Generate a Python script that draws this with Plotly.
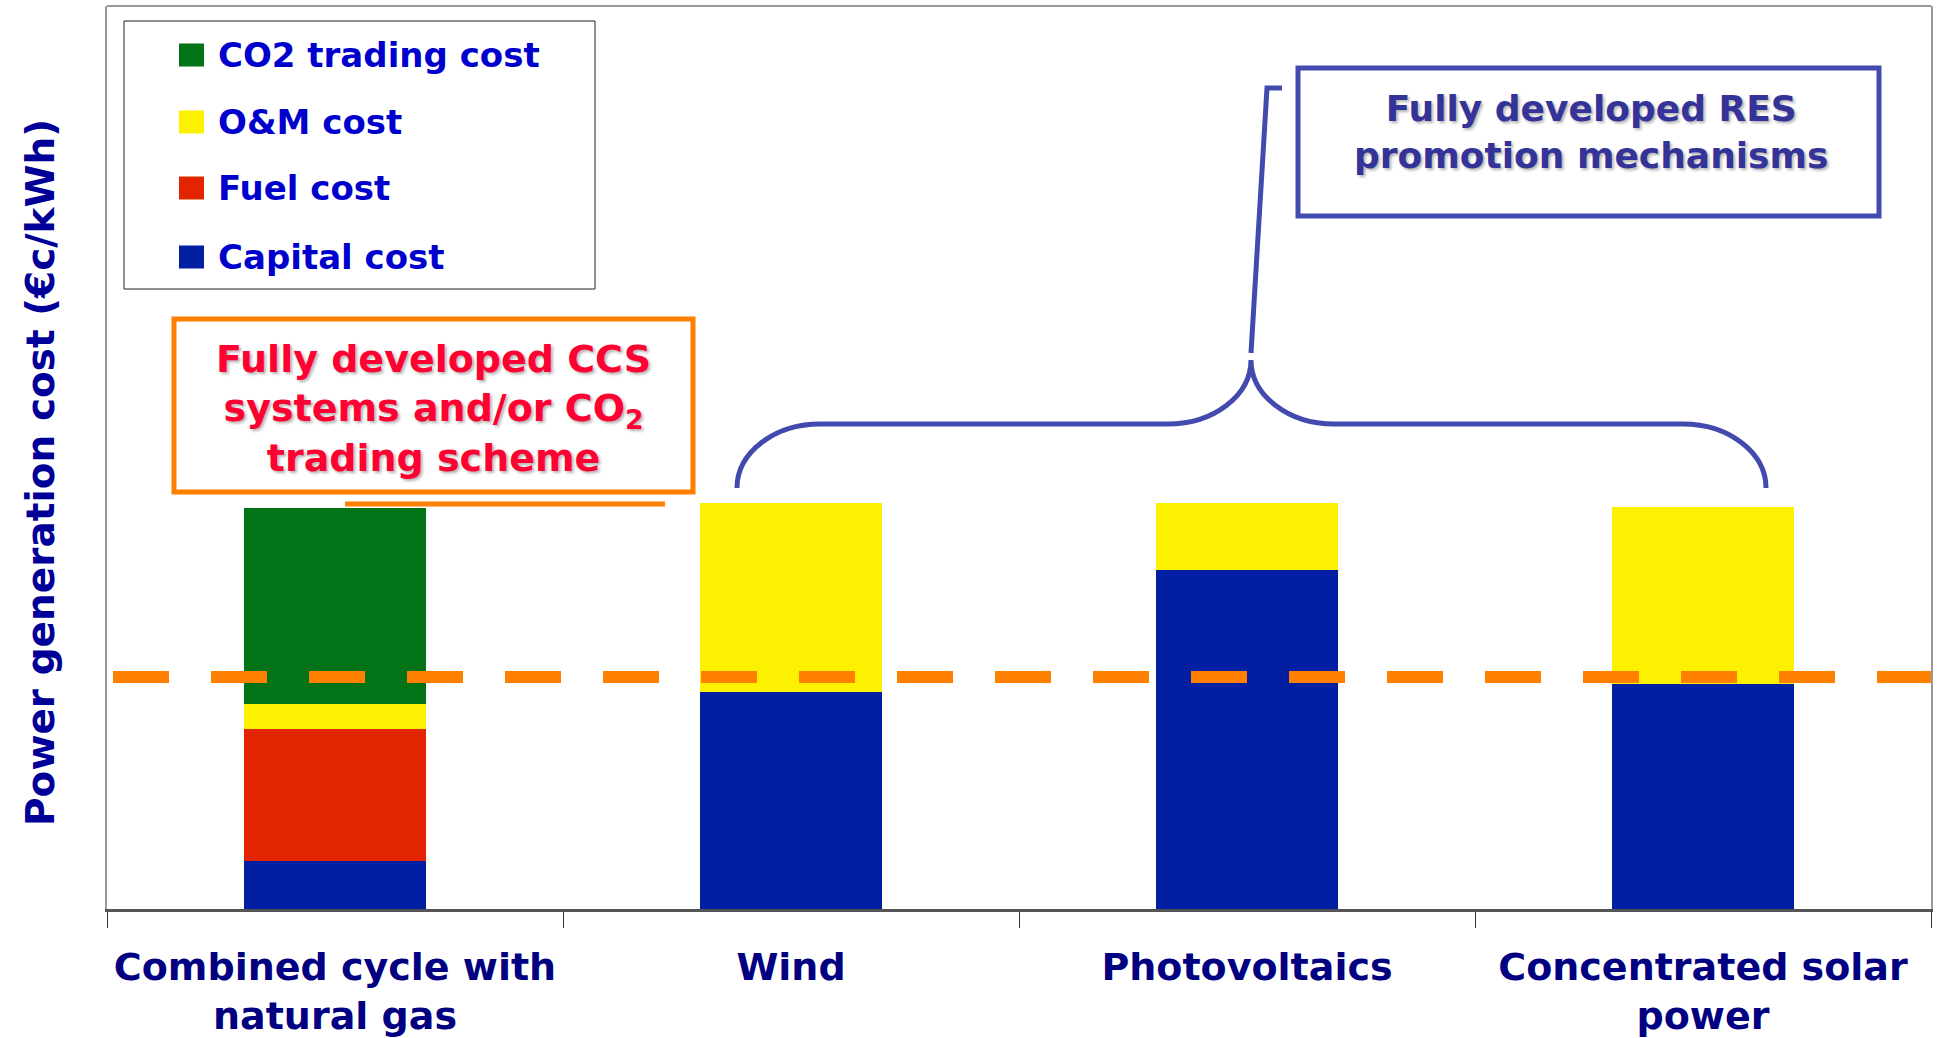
import plotly.graph_objects as go

# ---------------- data ----------------
categories = ["Combined cycle with natural gas", "Wind", "Photovoltaics", "Concentrated solar power"]
tick_labels = ["Combined cycle with<br>natural gas", "Wind", "Photovoltaics", "Concentrated solar<br>power"]
capital_cost = [0.53, 2.40, 3.75, 2.49]
fuel_cost = [1.46, 0.0, 0.0, 0.0]
om_cost = [0.28, 2.10, 0.75, 1.96]
co2_cost = [2.17, 0.0, 0.0, 0.0]
reference_cost = 2.57
series_names = ["Capital cost", "Fuel cost", "O&M cost", "CO2 trading cost"]
series_values = [capital_cost, fuel_cost, om_cost, co2_cost]
series_colors = ["#021EA3", "#E32402", "#FCF100", "#037318"]

# ---------------- layout helpers (pixel -> paper) ----------------
W, H = 1939, 1038
ML, MR, MT, MB = 107, 8, 6, 129
PW, PH = W - ML - MR, H - MT - MB


def PX(x):
    return (x - ML) / PW


def PY(y):
    return (H - MB - y) / PH


FONT = "DejaVu Sans"

fig = go.Figure()
for name, vals, col in zip(series_names, series_values, series_colors):
    fig.add_trace(go.Bar(x=categories, y=vals, name=name,
                         marker=dict(color=col, line=dict(width=0)),
                         showlegend=False))

fig.update_layout(
    width=W, height=H,
    margin=dict(l=ML, r=MR, t=MT, b=MB, autoexpand=False),
    plot_bgcolor="white", paper_bgcolor="white",
    barmode="stack", bargap=0.6,
    showlegend=False,
    xaxis=dict(type="category", tickmode="array", tickvals=categories, ticktext=tick_labels,
               tickson="boundaries", ticks="outside", ticklen=16, tickwidth=1, tickcolor="#333",
               showline=True, linecolor="#555", linewidth=3, showgrid=False, automargin=False,
               range=[-0.5, 3.5], ticklabelstandoff=22,
               tickfont=dict(family=FONT, size=38, color="#000080", weight="bold")),
    yaxis=dict(range=[0, 10], showticklabels=False, ticks="", showgrid=False, zeroline=False,
               showline=True, linecolor="#999", linewidth=2, mirror=True, automargin=False),
)

shapes = []
# top frame
shapes.append(dict(type="line", xref="paper", yref="paper", x0=0, x1=1, y0=1, y1=1,
                   line=dict(color="#999", width=2)))
# reference dashed line
shapes.append(dict(type="line", xref="paper", yref="y", x0=PX(113), x1=1,
                   y0=reference_cost, y1=reference_cost, layer="above",
                   line=dict(color="#FF7F00", width=12, dash="56px,42px")))

# legend box
shapes.append(dict(type="rect", xref="paper", yref="paper", x0=PX(124), x1=PX(595),
                   y0=PY(289), y1=PY(21), line=dict(color="#222", width=1), fillcolor="white"))
legend_rows = [55, 122, 188, 257]
for yc, name, col in zip(legend_rows, series_names[::-1], series_colors[::-1]):
    shapes.append(dict(type="rect", xref="paper", yref="paper", x0=PX(179), x1=PX(204),
                       y0=PY(yc + 11.5), y1=PY(yc - 11.5), line=dict(width=0), fillcolor=col))
    fig.add_annotation(x=PX(216), y=PY(yc), xref="paper", yref="paper", xanchor="left",
                       yanchor="middle", showarrow=False, text=name,
                       font=dict(family=FONT, size=34, color="#0000CC", weight="bold"))

# orange CCS box
shapes.append(dict(type="rect", xref="paper", yref="paper", x0=PX(174), x1=PX(693),
                   y0=PY(492), y1=PY(319), line=dict(color="#FF7F00", width=5)))
shapes.append(dict(type="line", xref="paper", yref="paper", x0=PX(345), x1=PX(665),
                   y0=PY(504), y1=PY(504), line=dict(color="#FF7F00", width=5)))
fig.add_annotation(x=PX(433), y=PY(408), xref="paper", yref="paper", showarrow=False,
                   xanchor="center", yanchor="middle",
                   text="Fully developed CCS<br>systems and/or CO<sub>2</sub><br>trading scheme",
                   font=dict(family=FONT, size=38, color="#FF0033", weight="bold",
                             shadow="2px 2px 3px rgba(0,0,0,0.3)"))

# blue RES box
BLUE = "#434AAD"
shapes.append(dict(type="rect", xref="paper", yref="paper", x0=PX(1298), x1=PX(1879),
                   y0=PY(216), y1=PY(68), line=dict(color=BLUE, width=5)))
fig.add_annotation(x=PX(1591), y=PY(132), xref="paper", yref="paper", showarrow=False,
                   xanchor="center", yanchor="middle",
                   text="Fully developed RES<br>promotion mechanisms",
                   font=dict(family=FONT, size=36, color="#333399", weight="bold",
                             shadow="2px 2px 3px rgba(0,0,0,0.3)"))

# curly brace
k = 0.5523


def P(x, y):
    return f"{PX(x):.5f},{PY(y):.5f}"


brace = (
    f"M {P(737, 488)} "
    f"C {P(737, 488 - 64 * k)} {P(820 - 83 * k, 424)} {P(820, 424)} "
    f"L {P(1168, 424)} "
    f"C {P(1168 + 83 * k, 424)} {P(1251, 360 + 64 * k)} {P(1251, 360)} "
    f"C {P(1251, 360 + 64 * k)} {P(1334 - 83 * k, 424)} {P(1334, 424)} "
    f"L {P(1683, 424)} "
    f"C {P(1683 + 83 * k, 424)} {P(1766, 488 - 64 * k)} {P(1766, 488)}"
)
shapes.append(dict(type="path", xref="paper", yref="paper", path=brace,
                   line=dict(color=BLUE, width=5)))
leader = f"M {P(1251, 353)} L {P(1267, 88)} L {P(1282, 88)}"
shapes.append(dict(type="path", xref="paper", yref="paper", path=leader,
                   line=dict(color=BLUE, width=5)))

fig.update_layout(shapes=shapes)

# y-axis title
fig.add_annotation(x=PX(40), y=PY(473), xref="paper", yref="paper", showarrow=False,
                   xanchor="center", yanchor="middle",
                   textangle=-90, text="Power generation cost (€c/kWh)",
                   font=dict(family=FONT, size=39, color="#000099", weight="bold"))

fig.write_html("out.html", config={"displayModeBar": False},
               post_script="document.body.style.margin='0';")
